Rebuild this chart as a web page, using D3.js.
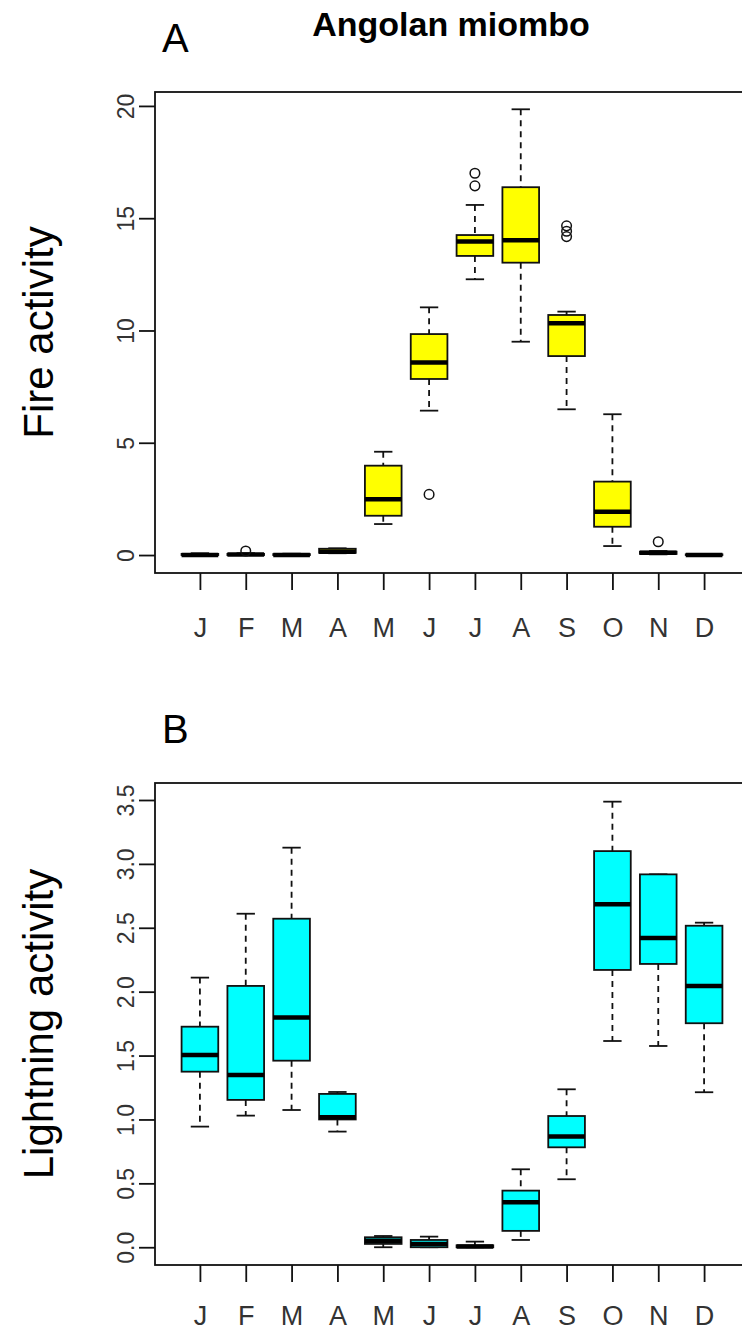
<!DOCTYPE html>
<html>
<head>
<meta charset="utf-8">
<script src="https://cdn.jsdelivr.net/npm/d3@7"></script>
<style>
  body { margin: 0; background: #fff; }
  svg { display: block; font-family: "Liberation Sans", Arial, sans-serif; }
</style>
</head>
<body>
<div id="chart"></div>
<script>
// month labels
var months = ["J","F","M","A","M","J","J","A","S","O","N","D"];

// Fire activity (panel A)
var fireLow    = [0, 0, 0, 0.08, 1.38, 6.43, 12.28, 9.50, 6.49, 0.40, 0.03, 0];
var fireQ1     = [0, 0, 0, 0.10, 1.75, 7.84, 13.32, 13.02, 8.86, 1.26, 0.05, 0];
var fireMedian = [0, 0.02, 0, 0.15, 2.48, 8.57, 13.96, 14.02, 10.32, 1.93, 0.10, 0];
var fireQ3     = [0.05, 0.05, 0.04, 0.28, 3.98, 9.84, 14.25, 16.38, 10.69, 3.27, 0.15, 0.03];
var fireHigh   = [0.08, 0.08, 0.06, 0.30, 4.60, 11.03, 15.59, 19.85, 10.84, 6.27, 0.18, 0.05];
var fireOutliers = [[], [0.18], [], [], [], [2.70], [16.44, 17.0], [], [14.18, 14.42, 14.66], [], [0.59], []];
var fireTicks  = [0, 5, 10, 15, 20];

// Lightning activity (panel B)
var lightLow    = [0.944, 1.03, 1.074, 0.905, 0.0, 0.0, 0.0, 0.057, 0.532, 1.614, 1.575, 1.213];
var lightQ1     = [1.374, 1.153, 1.46, 1.00, 0.026, 0.0, 0.0, 0.128, 0.782, 2.17, 2.217, 1.753];
var lightMedian = [1.505, 1.348, 1.797, 1.017, 0.05, 0.026, 0.005, 0.352, 0.866, 2.684, 2.42, 2.045];
var lightQ3     = [1.726, 2.045, 2.571, 1.20, 0.078, 0.057, 0.015, 0.443, 1.027, 3.10, 2.918, 2.516];
var lightHigh   = [2.11, 2.61, 3.127, 1.215, 0.088, 0.083, 0.044, 0.61, 1.236, 3.487, 2.918, 2.54];
var lightOutliers = [[], [], [], [], [], [], [], [], [], [], [], []];
var lightTicks  = [0, 0.5, 1, 1.5, 2, 2.5, 3, 3.5];

var svg = d3.select("#chart").append("svg")
    .attr("width", 742)
    .attr("height", 1332);

svg.append("text")
    .attr("x", 451).attr("y", 36)
    .attr("text-anchor", "middle")
    .style("font-size", "34px").style("font-weight", "bold")
    .text("Angolan miombo");

function buildPanel(opt){
    var left = 155, right = 749;
    var x = d3.scaleLinear().domain([0.02, 12.98]).range([left, right]);
    var y = d3.scaleLinear().domain(opt.domain).range([opt.bottom, opt.top]);
    var g = svg.append("g");
    var step = x(2) - x(1);
    var boxW = step * 0.8;
    var capW = boxW * 0.5;

    // panel letter
    g.append("text")
        .attr("x", 162).attr("y", opt.letterY)
        .style("font-size", "40px")
        .text(opt.letter);

    // y axis title
    g.append("text")
        .attr("transform", "translate(53," + ((opt.top + opt.bottom) / 2) + ") rotate(-90)")
        .attr("text-anchor", "middle")
        .style("font-size", "42px")
        .text(opt.ylab);

    // frame
    g.append("rect")
        .attr("x", left).attr("y", opt.top)
        .attr("width", right - left).attr("height", opt.bottom - opt.top)
        .attr("fill", "none").attr("stroke", "#111").attr("stroke-width", 1.8);

    // y axis
    var yAxis = g.append("g")
        .attr("transform", "translate(" + left + ",0)")
        .call(d3.axisLeft(y).tickValues(opt.ticks).tickSize(16).tickFormat(opt.fmt));
    yAxis.select(".domain").remove();
    yAxis.selectAll("line").attr("stroke", "#111").attr("stroke-width", 1.8);
    yAxis.selectAll("text")
        .attr("x", 0).attr("dy", 0)
        .attr("transform", "translate(-21,0) rotate(-90)")
        .attr("text-anchor", "middle")
        .attr("fill", "#333")
        .style("font-size", "23px");

    // x axis
    var xAxis = g.append("g")
        .attr("transform", "translate(0," + opt.bottom + ")")
        .call(d3.axisBottom(x).tickValues(d3.range(1, 13)).tickSize(17)
            .tickFormat(function(d){ return months[d - 1]; }));
    xAxis.select(".domain").remove();
    xAxis.selectAll("line").attr("stroke", "#111").attr("stroke-width", 1.8);
    xAxis.selectAll("text")
        .attr("y", 0).attr("dy", 0)
        .attr("transform", "translate(0," + opt.labelOffset + ")")
        .attr("fill", "#333")
        .style("font-size", "27px");

    for (var i = 0; i < 12; i++){
        var cx = x(i + 1);
        // whiskers
        g.append("line")
            .attr("x1", cx).attr("x2", cx)
            .attr("y1", y(opt.high[i])).attr("y2", y(opt.q3[i]))
            .attr("stroke", "#111").attr("stroke-width", 1.8).attr("stroke-dasharray", "6,5");
        g.append("line")
            .attr("x1", cx).attr("x2", cx)
            .attr("y1", y(opt.q1[i])).attr("y2", y(opt.low[i]))
            .attr("stroke", "#111").attr("stroke-width", 1.8).attr("stroke-dasharray", "6,5");
        g.append("line")
            .attr("x1", cx - capW / 2).attr("x2", cx + capW / 2)
            .attr("y1", y(opt.high[i])).attr("y2", y(opt.high[i]))
            .attr("stroke", "#111").attr("stroke-width", 1.8);
        g.append("line")
            .attr("x1", cx - capW / 2).attr("x2", cx + capW / 2)
            .attr("y1", y(opt.low[i])).attr("y2", y(opt.low[i]))
            .attr("stroke", "#111").attr("stroke-width", 1.8);
        // box
        g.append("rect")
            .attr("x", cx - boxW / 2).attr("y", y(opt.q3[i]))
            .attr("width", boxW).attr("height", Math.max(0, y(opt.q1[i]) - y(opt.q3[i])))
            .attr("fill", opt.fill).attr("stroke", "#111").attr("stroke-width", 1.8);
        // median
        g.append("line")
            .attr("x1", cx - boxW / 2).attr("x2", cx + boxW / 2)
            .attr("y1", y(opt.median[i])).attr("y2", y(opt.median[i]))
            .attr("stroke", "#000").attr("stroke-width", 4.5);
        // outliers
        opt.outliers[i].forEach(function(v){
            g.append("circle")
                .attr("cx", cx).attr("cy", y(v)).attr("r", 4.8)
                .attr("fill", "none").attr("stroke", "#111").attr("stroke-width", 1.5);
        });
    }
}

buildPanel({
    letter: "A", letterY: 52, ylab: "Fire activity", labelOffset: 64,
    top: 92, bottom: 573, domain: [-0.80, 20.62],
    ticks: fireTicks, fmt: d3.format("d"), fill: "#ffff00",
    low: fireLow, q1: fireQ1, median: fireMedian, q3: fireQ3, high: fireHigh, outliers: fireOutliers
});

buildPanel({
    letter: "B", letterY: 743, ylab: "Lightning activity", labelOffset: 60,
    top: 783, bottom: 1265, domain: [-0.139, 3.633],
    ticks: lightTicks, fmt: d3.format(".1f"), fill: "#00ffff",
    low: lightLow, q1: lightQ1, median: lightMedian, q3: lightQ3, high: lightHigh, outliers: lightOutliers
});
</script>
</body>
</html>
